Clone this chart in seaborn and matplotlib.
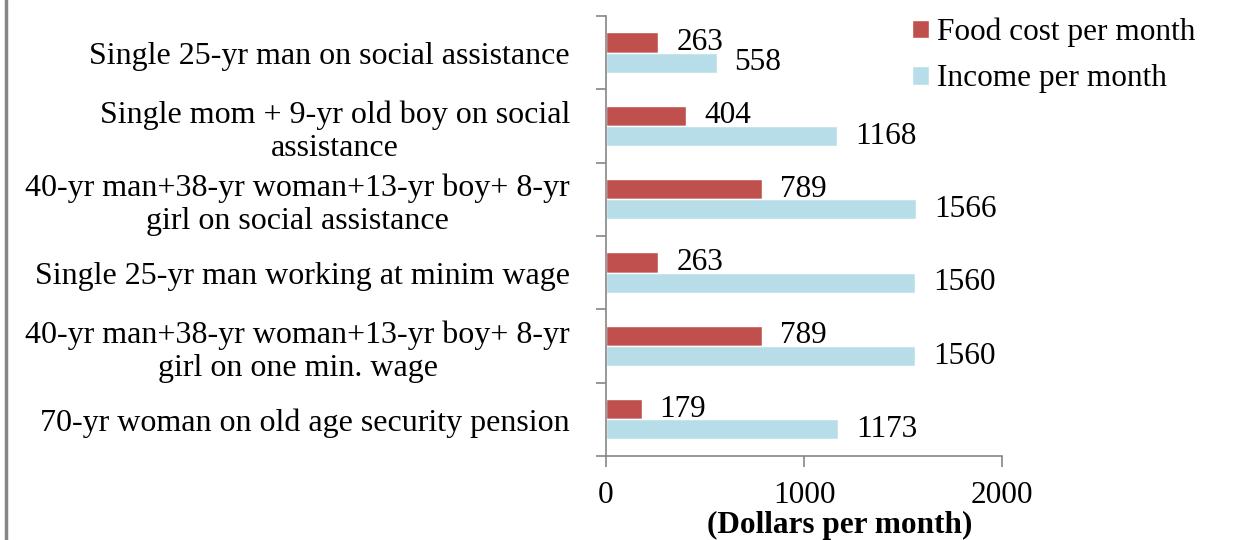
import pandas as pd
import seaborn as sns
import matplotlib.pyplot as plt
from matplotlib.lines import Line2D

categories = [
    "Single 25-yr man on social assistance",
    "Single mom + 9-yr old boy on social\nassistance",
    "40-yr man+38-yr woman+13-yr boy+ 8-yr\ngirl on social assistance",
    "Single 25-yr man working at minim wage",
    "40-yr man+38-yr woman+13-yr boy+ 8-yr\ngirl on one min. wage",
    "70-yr woman on old age security pension",
]
food_cost = [263, 404, 789, 263, 789, 179]
income = [558, 1168, 1566, 1560, 1560, 1173]
series = ["Food cost per month", "Income per month"]

df = pd.DataFrame({
    "group": categories * 2,
    "value": food_cost + income,
    "series": [series[0]] * len(categories) + [series[1]] * len(categories),
})

sns.set_style("white")
plt.rcParams["font.family"] = ["Liberation Serif", "DejaVu Serif"]
plt.rcParams["text.color"] = "black"
plt.rcParams["axes.labelcolor"] = "black"

fig = plt.figure(figsize=(12.54, 5.4), dpi=100)
ax = fig.add_axes([0.4833, 0.1556, 0.3158, 0.8148])

sns.barplot(data=df, y="group", x="value", hue="series", order=categories,
            hue_order=series, palette=["#C0504D", "#B7DEE8"], width=0.55,
            orient="h", ax=ax, saturation=1)

# value labels next to each bar
for cont in ax.containers:
    ax.bar_label(cont, fmt="%d", padding=13, fontsize=22.5, color="black")

ax.set_xlim(0, 2000)
ax.set_xticks([0, 1000, 2000])
ax.set_ylim(len(categories) - 0.5, -0.5)

# category boundaries as outward ticks, labels at centers
ax.set_yticks(range(len(categories)))
ax.set_yticklabels(categories, fontsize=23, multialignment="center",
                   linespacing=1.2, color="black")
ax.tick_params(axis="y", which="major", length=0, pad=26)
ax.set_yticks([i - 0.5 for i in range(len(categories) + 1)], minor=True)
ax.tick_params(axis="y", which="minor", length=7, color="#868686", width=1.2, left=True)
ax.tick_params(axis="x", length=8, color="#868686", width=1.2, bottom=True,
               labelsize=22.5, labelcolor="black", pad=10, direction="out")

for side in ["top", "right"]:
    ax.spines[side].set_visible(False)
for side in ["left", "bottom"]:
    ax.spines[side].set_color("#868686")
    ax.spines[side].set_linewidth(1.2)

ax.set_ylabel("")
ax.set_xlabel("(Dollars per month)", fontsize=22.5, fontweight="bold",
              labelpad=0, color="black")
ax.xaxis.set_label_coords(0.59, -0.125)

leg = ax.legend(loc="upper left", bbox_to_anchor=(0.74, 1.025), frameon=False,
                fontsize=22.5, handlelength=0.55, handleheight=0.55,
                handletextpad=0.25, labelspacing=0.55, borderaxespad=0)

# gray border line on the left of the figure
fig.add_artist(Line2D([0.005, 0.005], [0, 1], color="#868686", lw=2.5,
                      transform=fig.transFigure))

fig.savefig("out.png", dpi=100)
